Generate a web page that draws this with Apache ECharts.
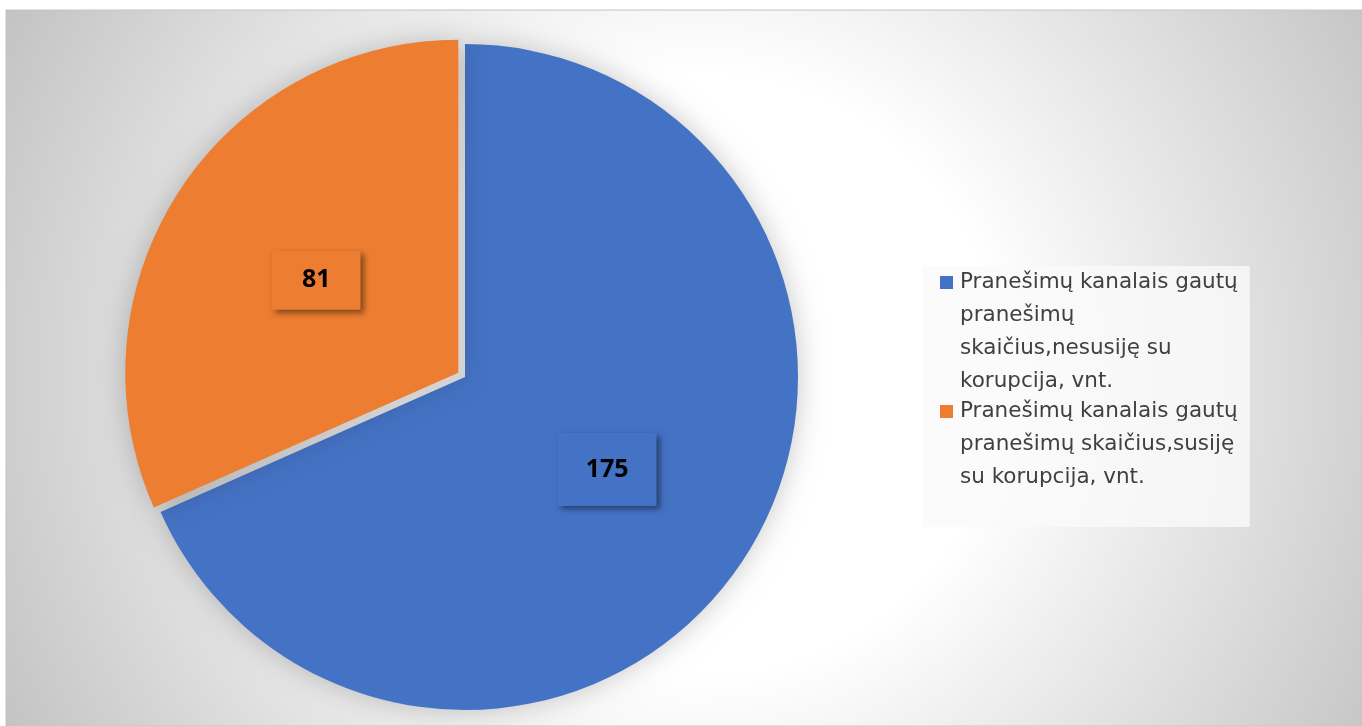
<!DOCTYPE html>
<html>
<head>
<meta charset="utf-8">
<script src="https://cdn.jsdelivr.net/npm/echarts@6/dist/echarts.min.js"></script>
<style>
  html, body { margin: 0; padding: 0; background: #ffffff; }
  #chart { width: 1362px; height: 726px; }
</style>
</head>
<body>
<div id="chart"></div>
<script>
// ---- data ----
const categories = [
  'Pranešimų kanalais gautų pranešimų skaičius,nesusiję su korupcija, vnt.',
  'Pranešimų kanalais gautų pranešimų skaičius,susiję su korupcija, vnt.'
];
const values = [175, 81];
const legendLines = [
  ['Pranešimų kanalais gautų', 'pranešimų', 'skaičius,nesusiję su', 'korupcija, vnt.'],
  ['Pranešimų kanalais gautų', 'pranešimų skaičius,susiję', 'su korupcija, vnt.', ' ']
];
const colors = ['#4472C4', '#ED7D31'];
const labelPadding = [[24, 28], [17, 30]];

const chart = echarts.init(document.getElementById('chart'), null, { renderer: 'canvas' });

const legendText = {};
categories.forEach((c, i) => { legendText[c] = legendLines[i].join('\n'); });

const iconPath = 'path://M0,0L0.01,0L0.01,0.01Z M0,10H13V23H0Z M12.99,131.99L13,132L12.99,132Z';

const option = {
  animation: false,
  color: colors,
  graphic: [{
    type: 'rect',
    z: -10,
    silent: true,
    shape: { x: 6, y: 10, width: 1356, height: 716 },
    style: {
      fill: new echarts.graphic.RadialGradient(700, 375, 790, [
        { offset: 0, color: '#ffffff' },
        { offset: 0.38, color: '#ffffff' },
        { offset: 1, color: '#c2c2c2' }
      ], true),
      stroke: '#c4c4c4',
      lineWidth: 1
    }
  }],
  legend: {
    orient: 'vertical',
    left: 923,
    top: 266,
    padding: [0, 12, 0, 17],
    itemGap: -3,
    itemWidth: 13,
    itemHeight: 132,
    icon: iconPath,
    selectedMode: false,
    backgroundColor: 'rgba(250,250,250,0.8)',
    itemStyle: { borderWidth: 0, shadowBlur: 0, shadowColor: 'rgba(0,0,0,0)' },
    textStyle: {
      fontFamily: 'DejaVu Sans',
      fontSize: 21.5,
      lineHeight: 33,
      color: '#404040',
      padding: [0, 0, 0, 2]
    },
    formatter: name => legendText[name],
    data: categories
  },
  series: [{
    type: 'pie',
    center: [465, 377],
    radius: 333,
    startAngle: 90,
    clockwise: true,
    selectedMode: 'single',
    selectedOffset: 8,
    avoidLabelOverlap: false,
    emphasis: { disabled: true },
    itemStyle: {
      borderWidth: 0,
      shadowBlur: 28,
      shadowColor: 'rgba(0,0,0,0.22)'
    },
    label: {
      show: true,
      position: 'inside',
      formatter: '{c}',
      fontFamily: 'Open Sans',
      fontWeight: 'bold',
      fontSize: 25,
      lineHeight: 25,
      color: '#000000',
      shadowBlur: 6,
      shadowOffsetX: 3,
      shadowOffsetY: 3,
      shadowColor: 'rgba(0,0,0,0.45)'
    },
    labelLine: { show: false },
    data: categories.map((name, i) => ({
      name: name,
      value: values[i],
      selected: i === 1,
      itemStyle: { color: colors[i] },
      label: { backgroundColor: colors[i], padding: labelPadding[i] }
    }))
  }]
};

chart.setOption(option);
</script>
</body>
</html>
